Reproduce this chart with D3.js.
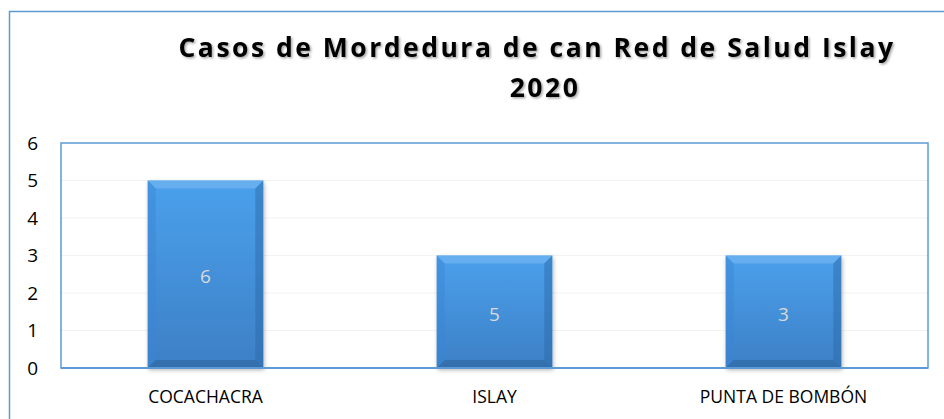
<html lang="es">
<head>
<meta charset="UTF-8">
<title>Casos de Mordedura de can</title>
<script src="https://d3js.org/d3.v7.min.js"></script>
<style>
  body { margin: 0; background: #fff; font-family: "Open Sans", sans-serif; }
</style>
</head>
<body>
<div id="chart"></div>
<script>
// data
const categories = ["COCACHACRA", "ISLAY", "PUNTA DE BOMBÓN"];
const values = [5, 3, 3];
const valueLabels = ["6", "5", "3"];   // labels printed inside the bars
const yTicks = [0, 1, 2, 3, 4, 5, 6];
const titleLines = ["Casos de Mordedura de can Red de Salud Islay", "2020"];

const W = 944, H = 419;
const plot = { left: 61, top: 143, right: 928, bottom: 368 };
const blue = "#5b9bd5";

const svg = d3.select("#chart").append("svg")
  .attr("width", W)
  .attr("height", H);

const defs = svg.append("defs");
const grad = defs.append("linearGradient")
  .attr("id", "barGrad").attr("x1", 0).attr("y1", 0).attr("x2", 0).attr("y2", 1);
grad.append("stop").attr("offset", "0%").attr("stop-color", "#4aa0ec");
grad.append("stop").attr("offset", "100%").attr("stop-color", "#3d80c6");

const shadow = defs.append("filter").attr("id", "shadow")
  .attr("x", "-20%").attr("y", "-20%").attr("width", "140%").attr("height", "140%");
shadow.append("feDropShadow")
  .attr("dx", 1).attr("dy", 2).attr("stdDeviation", 2)
  .attr("flood-color", "#000").attr("flood-opacity", 0.3);

const txtShadow = defs.append("filter").attr("id", "txtShadow");
txtShadow.append("feDropShadow")
  .attr("dx", 1.5).attr("dy", 1.5).attr("stdDeviation", 1)
  .attr("flood-color", "#000").attr("flood-opacity", 0.35);

// outer chart frame
svg.append("rect")
  .attr("x", 9.5).attr("y", 11.5)
  .attr("width", W + 20).attr("height", H + 20)
  .attr("fill", "none")
  .attr("stroke", blue)
  .attr("stroke-width", 1.5);

// title
svg.append("g")
  .selectAll("text")
  .data(titleLines)
  .join("text")
    .attr("x", (d, i) => i === 0 ? 537 : 545)
    .attr("y", (d, i) => 57 + i * 40)
    .attr("text-anchor", "middle")
    .attr("filter", "url(#txtShadow)")
    .style("font-size", "26.5px")
    .style("font-weight", "bold")
    .style("letter-spacing", "2.5px")
    .style("fill", "#000")
    .text(d => d);

const x = d3.scaleBand()
  .domain(categories)
  .range([plot.left, plot.right])
  .paddingInner(0.6)
  .paddingOuter(0.3);

const y = d3.scaleLinear()
  .domain([0, 6])
  .range([plot.bottom, plot.top]);

// faint gridlines
svg.append("g")
  .selectAll("line")
  .data(yTicks.filter(d => d > 0 && d < 6))
  .join("line")
    .attr("x1", plot.left).attr("x2", plot.right)
    .attr("y1", d => y(d)).attr("y2", d => y(d))
    .attr("stroke", "#f2f2f2")
    .attr("stroke-width", 1);

// plot area border
svg.append("rect")
  .attr("x", plot.left).attr("y", plot.top)
  .attr("width", plot.right - plot.left).attr("height", plot.bottom - plot.top)
  .attr("fill", "none")
  .attr("stroke", blue)
  .attr("stroke-width", 1.5);

// y axis labels
const yAxis = d3.axisLeft(y).tickValues(yTicks).tickFormat(d3.format("d")).tickSize(0).tickPadding(0);
svg.append("g")
  .attr("transform", `translate(38, 0)`)
  .call(yAxis)
  .call(g => g.select(".domain").remove())
  .selectAll("text")
    .attr("text-anchor", "end")
    .style("font-family", "Open Sans, sans-serif")
    .style("font-size", "19px")
    .style("fill", "#000");

// bars
const bars = svg.append("g")
  .selectAll("g")
  .data(categories.map((c, i) => ({ cat: c, v: values[i], lab: valueLabels[i] })))
  .join("g");

bars.append("rect")
  .attr("x", d => x(d.cat))
  .attr("y", d => y(d.v))
  .attr("width", x.bandwidth())
  .attr("height", d => y(0) - y(d.v))
  .attr("fill", "url(#barGrad)")
  .attr("filter", "url(#shadow)");

// bevel edges
const bev = 8;
bars.each(function(d) {
  const g = d3.select(this);
  const x0 = x(d.cat), x1 = x0 + x.bandwidth();
  const y0 = y(d.v), y1 = y(0);
  g.append("path")
    .attr("d", `M${x0},${y0}L${x1},${y0}L${x1 - bev},${y0 + bev}L${x0 + bev},${y0 + bev}Z`)
    .attr("fill", "#7ab9f2").attr("opacity", 0.6);
  g.append("path")
    .attr("d", `M${x0},${y0}L${x0 + bev},${y0 + bev}L${x0 + bev},${y1 - bev}L${x0},${y1}Z`)
    .attr("fill", "#3a86d4").attr("opacity", 0.45);
  g.append("path")
    .attr("d", `M${x1},${y0}L${x1 - bev},${y0 + bev}L${x1 - bev},${y1 - bev}L${x1},${y1}Z`)
    .attr("fill", "#2a65a3").attr("opacity", 0.45);
  g.append("path")
    .attr("d", `M${x0},${y1}L${x0 + bev},${y1 - bev}L${x1 - bev},${y1 - bev}L${x1},${y1}Z`)
    .attr("fill", "#2b5f96").attr("opacity", 0.5);
});

bars.append("text")
  .attr("x", d => x(d.cat) + x.bandwidth() / 2)
  .attr("y", d => (y(d.v) + y(0)) / 2 + 9)
  .attr("text-anchor", "middle")
  .style("font-size", "19px")
  .style("fill", "#d9d9d9")
  .text(d => d.lab);

// baseline
svg.append("line")
  .attr("x1", plot.left).attr("x2", plot.right)
  .attr("y1", y(0)).attr("y2", y(0))
  .attr("stroke", blue)
  .attr("stroke-width", 2);

// x axis labels
const xAxis = d3.axisBottom(x).tickSize(0).tickPadding(0);
svg.append("g")
  .attr("transform", `translate(0, ${plot.bottom + 35})`)
  .call(xAxis)
  .call(g => g.select(".domain").remove())
  .selectAll("text")
    .attr("dy", 0)
    .style("font-family", "Open Sans, sans-serif")
    .style("font-size", "17.5px")
    .style("fill", "#000");
</script>
</body>
</html>
